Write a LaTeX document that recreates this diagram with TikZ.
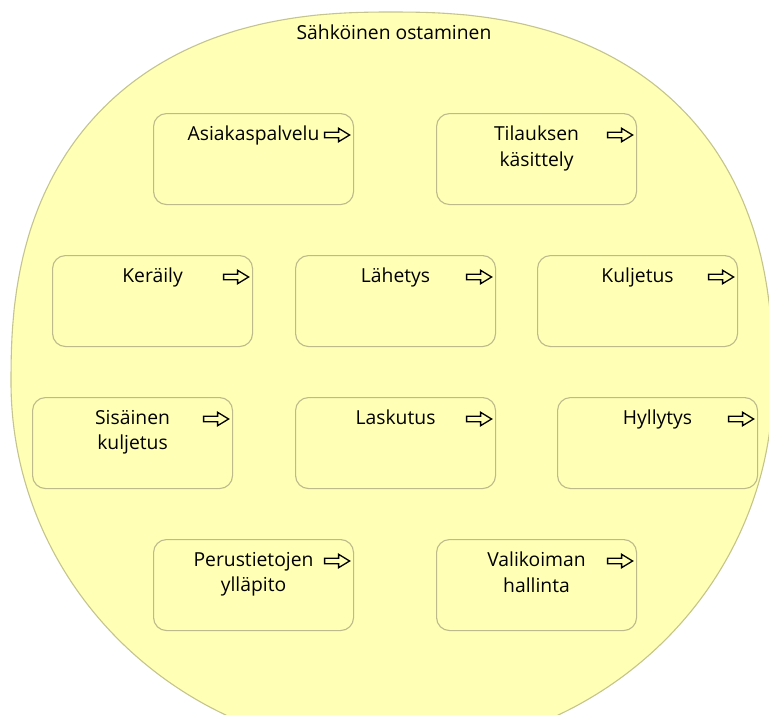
\documentclass[tikz,border=0pt]{standalone}
\usepackage{fontspec}
\setmainfont{Open Sans}
\begin{document}
\begin{tikzpicture}[x=1pt,y=-1pt,
  group/.style={draw=groupline, line width=1.1pt, fill=fnfill},
  fn/.style={draw=boxline, line width=1.1pt, fill=fnfill, rounded corners=13pt,
    minimum width=200pt, minimum height=91pt, anchor=north west, inner sep=0pt},
  lbl/.style={anchor=north, align=center, font=\fontsize{19.3}{25.5}\selectfont, text=black, inner sep=0pt},
  title/.style={anchor=north, font=\fontsize{19.3}{25.5}\selectfont, text=black, inner sep=0pt},
  arrowicon/.style={draw=black, line width=1.3pt, fill=fnfill, line join=miter}
]
\definecolor{fnfill}{RGB}{255,255,181}
\definecolor{groupline}{RGB}{196,196,140}
\definecolor{boxline}{RGB}{190,186,140}

\clip (0,0) rectangle (769,715);
\useasboundingbox (0,0) rectangle (769,715);

% outer grouping: a flattened (superelliptic) upper half and an elliptic lower half,
% centre (392,382), half-width 381, half-height 370
\draw[group] (773,382)
  -- plot[domain=0.5:89.5, samples=70, variable=\t]
       ({392+381*cos(\t)^0.8333}, {382-370*sin(\t)^0.8333})
  -- plot[domain=89.5:0.5, samples=70, variable=\t]
       ({392-381*cos(\t)^0.8333}, {382-370*sin(\t)^0.8333})
  -- (11,382) arc[start angle=180, end angle=0, x radius=381, y radius=370]
  -- cycle;
\coordinate (grp) at (392,382);
\node[title] (grp-t) at (394,25) {Sähköinen ostaminen};

% one function box: name, left, top, label
\newcommand\fnbox[4]{%
  \node[fn] (#1) at (#2,#3) {};
  \node[lbl] (#1-t) at ([yshift=-12.7]#1.north) {#4};
  \draw[arrowicon] ([xshift=-4.5,yshift=-22]#1.north east)
     -- ++(-11,-6.7) -- ++(0,4) -- ++(-14,0) -- ++(0,5.4) -- ++(14,0) -- ++(0,4) -- cycle;
}

\fnbox{asp}{153}{113}{Asiakaspalvelu}
\fnbox{tk}{436}{113}{Tilauksen\\käsittely}
\fnbox{ker}{52}{255}{Keräily}
\fnbox{lah}{295}{255}{Lähetys}
\fnbox{kul}{537}{255}{Kuljetus}
\fnbox{sk}{32}{397}{Sisäinen\\kuljetus}
\fnbox{las}{295}{397}{Laskutus}
\fnbox{hyl}{557}{397}{Hyllytys}
\fnbox{py}{153}{539}{Perustietojen\\ylläpito}
\fnbox{vh}{436}{539}{Valikoiman\\hallinta}
\end{tikzpicture}
\end{document}
